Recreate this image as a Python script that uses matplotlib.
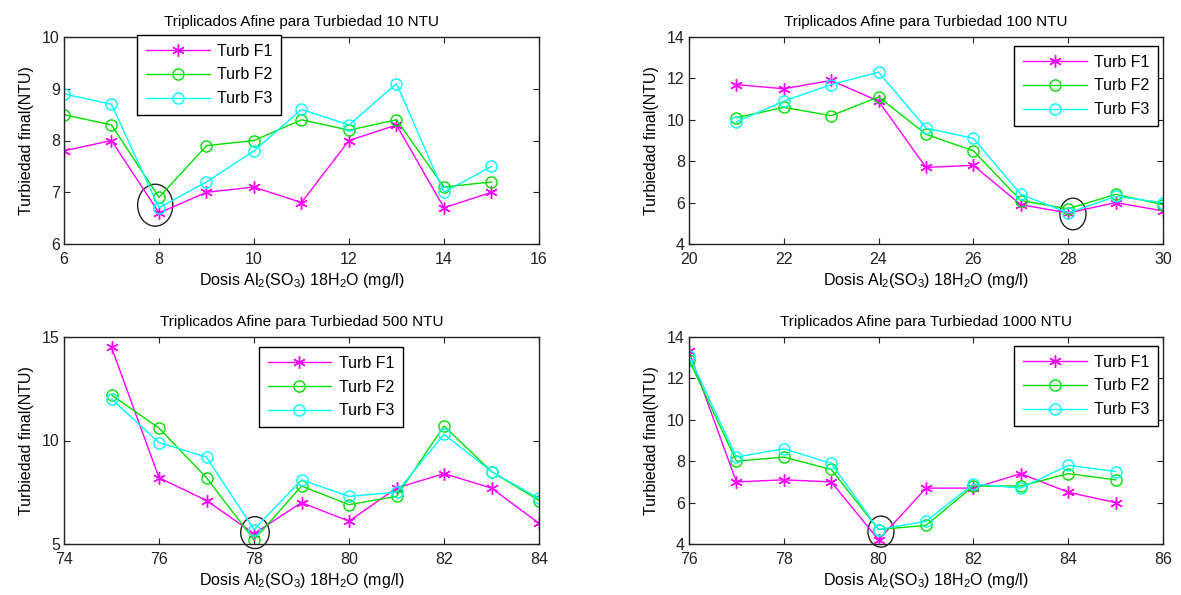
import numpy as np
import matplotlib
matplotlib.use("Agg")
import matplotlib.pyplot as plt
from matplotlib.patches import Ellipse

plt.rcParams["font.family"] = ["Liberation Sans", "DejaVu Sans"]

# --- data ---
dosis_10 = [6, 7, 8, 9, 10, 11, 12, 13, 14, 15]
f1_10 = [7.8, 8.0, 6.6, 7.0, 7.1, 6.8, 8.0, 8.3, 6.7, 7.0]
f2_10 = [8.5, 8.3, 6.9, 7.9, 8.0, 8.4, 8.2, 8.4, 7.1, 7.2]
f3_10 = [8.9, 8.7, 6.7, 7.2, 7.8, 8.6, 8.3, 9.1, 7.0, 7.5]

dosis_100 = [21, 22, 23, 24, 25, 26, 27, 28, 29, 30]
f1_100 = [11.7, 11.5, 11.9, 10.9, 7.7, 7.8, 5.9, 5.5, 6.0, 5.6]
f2_100 = [10.1, 10.6, 10.2, 11.1, 9.3, 8.5, 6.1, 5.7, 6.4, 5.9]
f3_100 = [9.9, 10.9, 11.7, 12.3, 9.6, 9.1, 6.4, 5.5, 6.3, 6.0]

dosis_500 = [75, 76, 77, 78, 79, 80, 81, 82, 83, 84]
f1_500 = [14.5, 8.2, 7.1, 5.5, 7.0, 6.1, 7.7, 8.4, 7.7, 6.0]
f2_500 = [12.2, 10.6, 8.2, 5.2, 7.8, 6.9, 7.3, 10.7, 8.5, 7.1]
f3_500 = [12.0, 9.9, 9.2, 5.7, 8.1, 7.3, 7.5, 10.3, 8.5, 7.2]

dosis_1000 = [76, 77, 78, 79, 80, 81, 82, 83, 84, 85]
f1_1000 = [13.3, 7.0, 7.1, 7.0, 4.2, 6.7, 6.7, 7.4, 6.5, 6.0]
f2_1000 = [12.9, 8.0, 8.2, 7.6, 4.7, 4.9, 6.8, 6.8, 7.4, 7.1]
f3_1000 = [13.1, 8.2, 8.6, 7.9, 4.7, 5.1, 6.9, 6.7, 7.8, 7.5]

turbiedades = [10, 100, 500, 1000]
leyenda = ["Turb F1", "Turb F2", "Turb F3"]

# optimum dose marked with a circle: (x, y, width, height) in data units
optimos = [(7.92, 6.75, 0.74, 0.81), (28.1, 5.45, 0.55, 1.53),
           (78.02, 5.55, 0.6, 1.54), (80.05, 4.6, 0.55, 1.5)]

paneles = [
    (dosis_10, f1_10, f2_10, f3_10, (6, 16), (6, 10), np.arange(6, 17, 2), np.arange(6, 11, 1)),
    (dosis_100, f1_100, f2_100, f3_100, (20, 30), (4, 14), np.arange(20, 31, 2), np.arange(4, 15, 2)),
    (dosis_500, f1_500, f2_500, f3_500, (74, 84), (5, 15), np.arange(74, 85, 2), [5, 10, 15]),
    (dosis_1000, f1_1000, f2_1000, f3_1000, (76, 86), (4, 14), np.arange(76, 87, 2), np.arange(4, 15, 2)),
]

W, H = 1181, 595
fig = plt.figure(figsize=(W / 100, H / 100), dpi=100)

# axes boxes in pixels: left, top, right, bottom
cajas = [(64, 37, 539, 244), (689, 37, 1163, 244),
         (64, 337, 539, 544), (689, 337, 1163, 544)]
# legend upper-left corner in axes coords
pos_leyenda = [(0.154, 1.01), (0.686, 0.957), (0.41, 0.952), (0.686, 0.957)]

colores = ["#ff00ff", "#00e000", "#00ffff"]
marcas = [(6, 2, 0), "o", "o"]  # asterisk like matlab '*'

for i, (x, a, b, c, xl, yl, xt, yt) in enumerate(paneles):
    l, t, r, bo = cajas[i]
    ax = fig.add_axes([l / W, 1 - bo / H, (r - l) / W, (bo - t) / H])
    for serie, col, m, lab in zip([a, b, c], colores, marcas, leyenda):
        ax.plot(x, serie, color=col, marker=m, markersize=8 if m == "o" else 9,
                markerfacecolor="none", markeredgecolor=col, markeredgewidth=1,
                linewidth=1, label=lab)
    ex, ey, ew, eh = optimos[i]
    ax.add_patch(Ellipse((ex, ey), ew, eh, fill=False, edgecolor="#222222",
                         linewidth=1, clip_on=False))
    ax.set_xlim(*xl)
    ax.set_ylim(*yl)
    ax.set_xticks(xt)
    ax.set_yticks(yt)
    ax.tick_params(direction="in", top=True, right=True, length=4,
                   labelsize=11.5, pad=3, colors="#222222")
    ax.tick_params(axis="x", pad=6)
    for s in ax.spines.values():
        s.set_linewidth(1)
        s.set_color("#222222")
    ax.set_title(f"Triplicados Afine para Turbiedad {turbiedades[i]} NTU",
                 fontsize=11, pad=8)
    ax.set_xlabel(r"Dosis Al$\mathregular{_2}$(SO$\mathregular{_3}$) 18H$\mathregular{_2}$O (mg/l)",
                  fontsize=11.5, labelpad=3)
    ax.set_ylabel("Turbiedad final(NTU)", fontsize=11.5, labelpad=6)
    leg = ax.legend(loc="upper left", bbox_to_anchor=pos_leyenda[i],
                    borderaxespad=0, fontsize=11.5, handlelength=4.0,
                    fancybox=False, framealpha=1, edgecolor="black",
                    borderpad=0.55, labelspacing=0.55, handletextpad=0.45)
    leg.get_frame().set_linewidth(1)

fig.savefig("out.png", dpi=100)
